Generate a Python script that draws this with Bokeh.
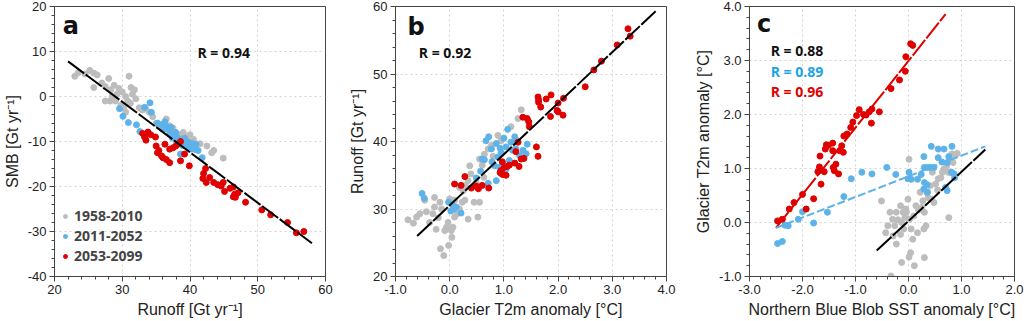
from bokeh.plotting import figure
from bokeh.layouts import row
from bokeh.models import (Range1d, SingleIntervalTicker, PrintfTickFormatter, Label,
                          Legend, LegendItem)
from bokeh.embed import file_html
from bokeh.resources import INLINE

GREY = "#bdbdbd"
BLUE = "#5db3e9"
RED = "#e00000"

period_labels = ["1958-2010", "2011-2052", "2053-2099"]

# ---------------- Panel a: Runoff vs SMB ----------------
a_grey_x = [23.0, 23.5, 24.5, 25.2, 25.8, 26.3, 25.8, 27.0, 27.5, 28.0, 28.3, 28.8, 29.2, 29.5,
            30.0, 30.5, 31.0, 31.3, 31.5, 30.8, 29.0, 28.2, 27.5, 28.5, 29.8, 30.2, 31.2, 31.8,
            32.0, 32.5, 33.0, 33.5, 34.0, 30.5, 34.5, 35.0, 35.5, 36.5, 37.0, 37.5, 38.5, 39.0,
            39.5, 40.0, 40.5, 41.5, 42.5, 43.2, 43.5, 44.9, 39.0, 40.2, 37.8]
a_grey_y = [4.5, 5.3, 5.0, 5.8, 5.2, 4.8, 2.0, 3.0, 2.2, 4.0, 1.5, 2.5, 0.5, 1.8,
            1.0, 0.0, 4.5, 2.0, 0.5, -1.0, -1.0, -1.0, -1.0, 0.0, -2.0, -2.5, -1.5, 1.5,
            -0.5, -2.5, -3.0, -2.8, -3.5, -3.5, -4.5, -6.0, -6.5, -5.0, -6.5, -7.0, -8.5, -8.0,
            -9.0, -8.5, -9.5, -10.5, -11.0, -12.5, -12.0, -13.7, -9.5, -10.5, -8.0]
a_blue_x = [34.1, 33.3, 34.3, 29.6, 30.1, 30.9, 32.1, 32.6, 35.8, 36.3, 36.7, 37.2, 37.7, 38.2,
            38.7, 39.0, 39.5, 39.9, 40.2, 40.4, 40.7, 40.2, 38.6, 41.8, 40.9, 39.2, 37.9, 37.2,
            36.5, 39.7, 37.4, 37.0, 38.0, 38.9, 39.4, 40.8, 36.0, 38.4, 41.2, 35.2]
a_blue_y = [-1.4, -2.4, -3.5, -2.7, -4.4, -5.8, -6.3, -7.8, -6.3, -5.6, -7.3, -8.0, -8.8, -9.2,
            -9.9, -10.6, -9.9, -10.3, -11.0, -10.5, -11.2, -11.7, -12.8, -13.6, -10.6, -9.3, -8.0, -6.9,
            -6.6, -11.4, -9.2, -8.4, -9.9, -10.9, -10.8, -11.8, -7.2, -10.2, -12.0, -5.9]
a_red_x = [33.0, 33.3, 33.5, 33.8, 34.9, 35.0, 35.4, 35.2, 35.8, 36.0, 36.5, 37.0, 36.3, 37.0,
           37.5, 37.9, 38.2, 38.6, 39.2, 38.6, 39.9, 42.3, 41.9, 42.4, 42.9, 43.5, 44.1, 44.6,
           44.9, 45.1, 45.9, 46.4, 46.6, 46.7, 47.1, 46.4, 48.2, 50.6, 51.9, 54.4, 55.7, 56.8,
           42.0, 34.2]
a_red_y = [-8.2, -9.0, -9.7, -7.9, -9.0, -11.0, -12.0, -12.5, -13.2, -13.6, -14.0, -14.7, -10.6, -11.7,
           -11.4, -11.0, -10.6, -10.0, -12.8, -14.3, -15.4, -16.0, -18.2, -19.1, -18.0, -19.1, -19.6, -19.9,
           -19.1, -21.1, -20.4, -20.1, -21.7, -22.4, -21.4, -22.3, -23.5, -25.2, -26.3, -28.0, -30.3, -30.0,
           -17.1, -8.5]
fit_a_x = [22.0, 58.0]
fit_a_y = [7.8, -32.6]

# ---------------- Panel b: T2m vs Runoff ----------------
b_grey_x = [-0.77, -0.67, -0.61, -0.55, -0.43, -0.37, -0.31, -0.28, -0.21, -0.18, -0.15, -0.09, -0.06,
            -0.03, 0.03, 0.04, -0.02, -0.17, -0.11, 0.06, 0.09, 0.14, 0.18, 0.23, 0.28, 0.25, 0.29,
            0.34, 0.39, 0.37, 0.49, 0.55, 0.52, 0.34, 0.63, 0.64, 0.71, 0.77, 0.89, 0.95, 0.80, 0.55,
            1.13, 1.26, 1.32, -0.28, -0.46, 0.18, 0.00, 0.09, 0.45, 0.60, -0.25]
b_grey_y = [28.4, 27.9, 28.8, 29.3, 29.6, 28.0, 29.3, 30.3, 28.7, 31.0, 30.0, 26.8, 27.3,
            28.0, 26.8, 25.8, 24.6, 24.1, 23.1, 27.3, 28.8, 29.3, 30.0, 31.0, 31.3, 32.7, 33.5,
            34.2, 35.2, 36.4, 33.9, 31.0, 28.8, 28.5, 34.7, 38.1, 38.9, 39.4, 40.9, 40.1, 37.8, 37.4,
            42.2, 43.4, 44.7, 31.7, 31.3, 33.2, 31.5, 31.3, 31.0, 36.5, 27.0]
b_blue_x = [-0.51, -0.47, -0.02, 0.02, 0.08, 0.21, 0.49, 0.57, 0.64, 0.67, 0.72, 0.77, 0.86, 0.89,
            0.98, 0.92, 0.95, 1.00, 1.04, 1.07, 1.13, 1.16, 1.20, 1.25, 1.29, 1.35, 1.43, 1.41,
            1.04, 0.86, 0.71, 0.83, 1.10, 0.60, 0.95, 0.05, 1.22, 0.78, 0.12, 0.93]
b_blue_y = [32.3, 31.6, 31.0, 29.7, 30.0, 29.4, 34.6, 35.6, 37.3, 40.1, 40.7, 38.9, 39.7, 37.7,
            36.7, 36.2, 35.2, 40.5, 39.2, 41.8, 39.9, 38.7, 40.7, 40.1, 37.9, 38.7, 39.6, 38.2,
            35.9, 34.2, 33.8, 36.4, 37.2, 37.4, 38.4, 30.6, 38.9, 37.0, 30.3, 39.0]
b_red_x = [0.09, 0.28, 0.21, 0.40, 0.49, 0.53, 0.72, 0.95, 0.98, 1.01, 1.04, 1.06, 1.20, 1.28,
           1.32, 1.37, 1.26, 1.35, 1.43, 1.46, 1.47, 1.60, 1.63, 1.63, 1.64, 1.64, 1.68, 1.78,
           1.87, 1.86, 2.00, 2.00, 2.09, 2.10, 2.50, 2.66, 2.80, 3.09, 3.29, 3.33, 1.98, 0.97,
           1.22, 0.60, 0.93, 1.10]
b_red_y = [33.7, 34.8, 33.5, 33.1, 33.4, 33.0, 33.1, 35.7, 35.1, 36.2, 35.0, 36.3, 36.8, 36.3,
           37.4, 37.5, 39.9, 43.6, 43.4, 42.9, 42.2, 39.2, 37.8, 46.6, 46.2, 45.8, 45.1, 46.3,
           46.9, 43.7, 45.7, 44.4, 43.9, 46.4, 48.1, 50.6, 51.9, 54.3, 56.7, 55.6, 44.6, 37.0,
           38.5, 33.5, 35.4, 36.5]
fit_b_x = [-0.6, 3.8]
fit_b_y = [26.0, 59.3]

# ---------------- Panel c: SST vs T2m ----------------
c_grey_x = [-0.51, -0.35, -0.30, -0.26, -0.29, -0.23, -0.15, -0.13, -0.10, -0.07, -0.04, 0.01, -0.01,
            0.02, 0.05, 0.04, 0.01, -0.13, 0.11, -0.33, 0.19, 0.14, 0.22, 0.27, 0.30, 0.33, 0.37,
            0.41, 0.45, 0.43, 0.51, 0.56, 0.61, 0.64, 0.67, 0.72, 0.75, 0.78, 0.82, 0.87, 0.92,
            0.84, 0.78, 0.76, 0.48, 0.29, 0.17, 0.08, -0.09, -0.39, -0.23, -0.15, 0.30, -0.43,
            -0.20, 0.10, 0.25, -0.05, 0.35, 0.55]
c_grey_y = [0.40, 0.19, 0.06, -0.06, -0.25, -0.40, -0.22, 0.00, 0.19, 0.09, 0.19, 1.17, 0.43,
            0.06, -0.12, -0.56, -0.64, -0.74, -0.80, -0.99, 0.23, 0.31, 0.56, 0.40, 0.19, -0.06, 0.46,
            0.68, 0.93, 0.43, 0.71, 0.81, 0.83, 0.93, 0.99, 1.05, 0.93, 1.20, 1.27, 1.24, 1.28,
            1.11, 0.93, 0.09, 0.37, -0.12, -0.19, -0.31, -0.12, -0.06, 0.19, 0.31, -0.65, -0.19,
            0.05, 0.12, 0.28, 0.25, 0.55, 0.60]
c_blue_x = [-2.47, -2.38, -2.33, -2.27, -2.08, -2.00, -1.79, -1.53, -1.22, -1.08, -0.88, -0.69, -0.41,
            -0.24, 0.01, 0.05, -0.01, 0.17, 0.24, 0.29, 0.30, 0.36, 0.41, 0.43, 0.48, 0.56, 0.56,
            0.63, 0.67, 0.73, 0.76, 0.82, 0.81, 0.86, 0.87, 0.35, 0.30, 0.36, 0.29, 0.73, 0.70]
c_blue_y = [-0.39, -0.35, -0.05, -0.06, 0.06, 0.20, -0.01, 0.19, 0.48, 0.81, 0.93, 0.90, 1.02,
            0.89, 0.93, 0.80, 0.81, 0.80, 0.89, 1.22, 1.02, 1.02, 1.02, 1.41, 1.02, 1.20, 1.36,
            1.12, 1.36, 1.11, 1.22, 1.41, 0.93, 0.90, 0.83, 0.70, 0.74, 0.56, 0.62, 0.59, 0.65]
c_red_x = [-2.47, -2.38, -2.25, -2.16, -2.00, -1.93, -1.79, -1.71, -1.68, -1.67, -1.65, -1.59, -1.57,
           -1.55, -1.51, -1.43, -1.43, -1.42, -1.40, -1.37, -1.32, -1.30, -1.26, -1.23, -1.22, -1.16,
           -1.09, -1.05, -0.98, -0.93, -0.85, -0.80, -0.74, -0.70, -0.69, -0.55, -0.33, -0.17, -0.06,
           -0.05, 0.04, 0.08]
c_red_y = [0.03, 0.06, 0.25, 0.37, 0.52, 0.25, 0.44, 0.94, 1.03, 1.23, 0.71, 0.94, 1.36,
           1.44, 1.43, 1.33, 1.47, 1.02, 0.96, 1.08, 0.90, 1.33, 1.42, 1.30, 1.60, 1.64,
           1.76, 1.86, 1.98, 2.09, 2.00, 1.99, 2.05, 1.84, 2.10, 2.05, 2.48, 2.64, 2.80,
           3.07, 3.31, 3.28]
fit_c_grey_x = [-0.6, 1.45]
fit_c_grey_y = [-0.52, 1.35]
fit_c_blue_x = [-2.5, 1.45]
fit_c_blue_y = [-0.1, 1.41]
fit_c_red_x = [-2.5, 0.7]
fit_c_red_y = [-0.1, 3.86]

r_texts_a = ["R = 0.94"]
r_texts_b = ["R = 0.92"]
r_texts_c = ["R = 0.88", "R = 0.89", "R = 0.96"]

TICK_FONT = "Liberation Sans"
BOLD_FONT = "Open Sans"
AXIS_COL = "#444444"


def make_fig(xr, yr, xint, yint, xfmt, yfmt, xlabel, ylabel, left, right, fw):
    p = figure(output_backend="svg", toolbar_location=None,
               x_range=Range1d(*xr), y_range=Range1d(*yr))
    p.frame_width = fw
    p.frame_height = 270
    p.min_border_left = left
    p.min_border_right = right
    p.min_border_top = 6
    p.min_border_bottom = 45
    p.xaxis.ticker = SingleIntervalTicker(interval=xint, num_minor_ticks=5)
    p.yaxis.ticker = SingleIntervalTicker(interval=yint, num_minor_ticks=5)
    p.xaxis.formatter = PrintfTickFormatter(format=xfmt)
    p.yaxis.formatter = PrintfTickFormatter(format=yfmt)
    p.xaxis.axis_label = xlabel
    p.yaxis.axis_label = ylabel
    for ax in (p.xaxis[0], p.yaxis[0]):
        ax.axis_label_text_font = TICK_FONT
        ax.axis_label_text_font_size = "16px"
        ax.axis_label_text_font_style = "normal"
        ax.axis_label_text_color = "#222222"
        ax.major_label_text_font = TICK_FONT
        ax.major_label_text_font_size = "13px"
        ax.major_label_text_color = "#222222"
        ax.axis_line_color = AXIS_COL
        ax.major_tick_line_color = AXIS_COL
        ax.minor_tick_line_color = AXIS_COL
        ax.major_tick_out = 5
        ax.major_tick_in = 0
        ax.minor_tick_out = 3
        ax.minor_tick_in = 0
        ax.major_label_standoff = 3
        ax.axis_label_standoff = 4
    p.grid.grid_line_color = "#d4d4d4"
    p.grid.grid_line_dash = "2 3"
    p.outline_line_color = AXIS_COL
    p.outline_line_alpha = 1.0
    p.background_fill_color = "white"
    p.border_fill_color = "white"
    return p


def r_label(x, y, text, color="#111111"):
    return Label(x=x, y=y, text=text, text_font=BOLD_FONT, text_color=color,
                 text_font_style="bold", text_font_size="14px", text_baseline="middle")


def panel_letter(x, y, text):
    return Label(x=x, y=y, text=text, text_font="DejaVu Sans", text_color="#111111",
                 text_font_style="bold", text_font_size="24px", text_baseline="alphabetic")


# Panel a
pa = make_fig((20, 60), (-40, 20), 10, 10, "%d", "%d",
              "Runoff [Gt yr\u207b\u00b9]", "SMB [Gt yr\u207b\u00b9]", 50, 20, 271)
ra_g = pa.scatter(a_grey_x, a_grey_y, size=6, color=GREY)
ra_b = pa.scatter(a_blue_x, a_blue_y, size=6, color=BLUE)
ra_r = pa.scatter(a_red_x, a_red_y, size=6, color=RED)
pa.line(fit_a_x, fit_a_y, line_color="black", line_width=2, line_dash="20 2")
pa.add_layout(r_label(41.1, 9.7, r_texts_a[0]))
pa.add_layout(panel_letter(21.2, 15.6, "a"))
leg = Legend(items=[LegendItem(label=period_labels[0], renderers=[ra_g]),
                    LegendItem(label=period_labels[1], renderers=[ra_b]),
                    LegendItem(label=period_labels[2], renderers=[ra_r])],
             location=(6, 11), background_fill_alpha=0, border_line_alpha=0,
             label_text_font=BOLD_FONT, label_text_font_style="bold",
             label_text_font_size="14px", glyph_width=10, glyph_height=16,
             label_height=16, spacing=1, padding=0, margin=0, label_standoff=4)
pa.add_layout(leg)

# Panel b
pb = make_fig((-1, 4), (20, 60), 1, 10, "%.1f", "%d",
              "Glacier T2m anomaly [\u00b0C]", "Runoff [Gt yr\u207b\u00b9]", 50, 20, 271)
pb.scatter(b_grey_x, b_grey_y, size=6, color=GREY)
pb.scatter(b_blue_x, b_blue_y, size=6, color=BLUE)
pb.scatter(b_red_x, b_red_y, size=6, color=RED)
pb.line(fit_b_x, fit_b_y, line_color="black", line_width=2, line_dash="20 2")
pb.add_layout(r_label(-0.57, 53.2, r_texts_b[0]))
pb.add_layout(panel_letter(-0.78, 56.9, "b"))

# Panel c
pc = make_fig((-3, 2), (-1, 4), 1, 1, "%.1f", "%.1f",
              "Northern Blue Blob SST anomaly [\u00b0C]", "Glacier T2m anomaly [\u00b0C]", 63, 14, 265)
pc.scatter(c_grey_x, c_grey_y, size=6, color=GREY)
pc.scatter(c_blue_x, c_blue_y, size=6, color=BLUE)
pc.scatter(c_red_x, c_red_y, size=6, color=RED)
pc.line(fit_c_red_x, fit_c_red_y, line_color=RED, line_width=2, line_dash="20 2")
pc.line(fit_c_blue_x, fit_c_blue_y, line_color=BLUE, line_width=2, line_dash="8 3")
pc.line(fit_c_grey_x, fit_c_grey_y, line_color="black", line_width=2, line_dash="20 2")
for txt, yy, col in zip(r_texts_c, [3.18, 2.80, 2.42], ["#111111", "#1ba4e4", "#e00000"]):
    pc.add_layout(r_label(-2.6, yy, txt, col))
pc.add_layout(panel_letter(-2.86, 3.67, "c"))

layout = row(pa, pb, pc, spacing=0)
open("out.html", "w").write(file_html(layout, INLINE))
